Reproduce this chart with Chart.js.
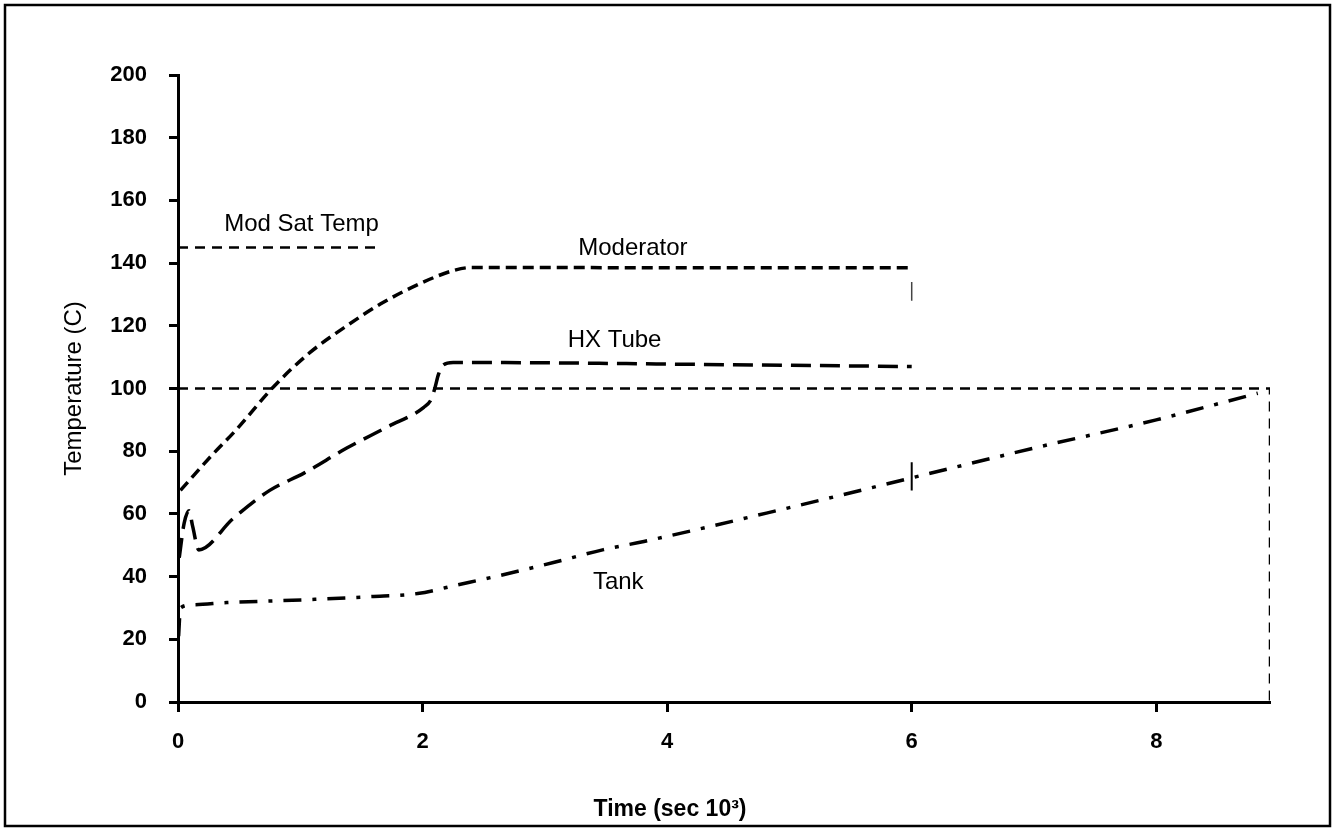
<!DOCTYPE html>
<html>
<head>
<meta charset="utf-8">
<script src="https://cdn.jsdelivr.net/npm/chart.js@4/dist/chart.umd.min.js"></script>
<style>
  html, body { margin: 0; padding: 0; background: #fff; }
  #wrap { width: 1332px; height: 830px; }
</style>
</head>
<body>
<div id="wrap"><canvas id="myChart" width="1332" height="830"></canvas></div>
<script>
// axis ticks
const xTicks = [0, 2, 4, 6, 8];
const yTicks = [0, 20, 40, 60, 80, 100, 120, 140, 160, 180, 200];

// Mod Sat Temp line
const modSatTime = [0, 1.66];
const modSatTemp = [145, 145];

// 100 C line and right edge
const boilTime = [0, 8.93, 8.93];
const boilTemp = [100, 100, 0];

// Moderator
const moderatorTime = [0.02, 0.26, 0.48, 0.78, 1.08, 1.38, 1.68, 2.01, 2.25, 2.4, 3, 4, 5, 6];
const moderatorTemp = [67.5, 78, 87, 100.5, 111.5, 120, 127.5, 134, 137.6, 138.6, 138.6, 138.5, 138.5, 138.5];

// HX Tube
const hxTime = [0.01, 0.05, 0.09, 0.12, 0.17, 0.45, 0.75, 1.03, 1.38, 1.71, 2.01, 2.07, 2.1, 2.13, 2.17, 2.25, 3, 4, 5, 6];
const hxTemp = [46, 57, 61, 56, 48.5, 58.5, 67.5, 73, 81, 87.7, 94, 96.5, 100, 104.5, 107.5, 108.3, 108.2, 107.8, 107.4, 107];

// Tank
const tankTime = [0.005, 0.02, 0.12, 0.4, 1.03, 1.57, 1.96, 2.29, 2.66, 3.07, 3.48, 3.81, 5, 6, 7, 8, 8.83];
const tankTemp = [21, 30, 31, 31.7, 32.6, 33.6, 34.6, 37.4, 40.6, 44.5, 48.6, 51.2, 62, 71.5, 81, 90, 98.5];

// small marks at t = 6
const modMarkTime = [6, 6];
const modMarkTemp = [134, 128];
const tankMarkTime = [6, 6];
const tankMarkTemp = [76.5, 67.5];

const pts = (xs, ys) => xs.map((x, i) => ({ x: x, y: ys[i] }));

const FONT = '"Liberation Sans", Arial, Helvetica, sans-serif';

// text labels inside the plot, placed in data units
const notes = [
  { text: 'Mod Sat Temp', t: 1.01, v: 152.5 },
  { text: 'Moderator', t: 3.72, v: 144.8 },
  { text: 'HX Tube', t: 3.57, v: 115.2 },
  { text: 'Tank', t: 3.6, v: 38 }
];

const framePlugin = {
  id: 'frame',
  beforeDraw(chart) {
    const c = chart.ctx;
    c.save();
    c.fillStyle = '#fff';
    c.fillRect(0, 0, chart.width, chart.height);
    c.strokeStyle = '#000';
    c.lineWidth = 2.5;
    c.strokeRect(5, 5, 1325, 821);
    c.restore();
  },
  afterDraw(chart) {
    const c = chart.ctx;
    const xs = chart.scales.x, ys = chart.scales.y;
    c.save();
    c.fillStyle = '#000';
    c.font = '24px ' + FONT;
    c.textAlign = 'center';
    c.textBaseline = 'middle';
    notes.forEach(n => {
      c.fillText(n.text, xs.getPixelForValue(n.t), ys.getPixelForValue(n.v));
    });
    // x axis title, sits a bit left of the plot centre in the original
    c.font = 'bold 23px ' + FONT;
    c.fillText('Time (sec 10³)', 670, 810);
    c.restore();
  }
};

const base = {
  pointRadius: 0,
  borderColor: '#000',
  fill: false,
  borderCapStyle: 'butt'
};

document.addEventListener('DOMContentLoaded', () => {
  const ctx = document.getElementById('myChart').getContext('2d');

  new Chart(ctx, {
    type: 'line',
    data: {
      datasets: [
        { ...base, label: 'Mod Sat Temp', data: pts(modSatTime, modSatTemp), borderWidth: 2.5, borderDash: [10, 7] },
        { ...base, label: '100 C', data: pts(boilTime, boilTemp), borderWidth: 2.5, borderDash: [10, 7] },
        { ...base, label: 'Moderator', data: pts(moderatorTime, moderatorTemp), borderWidth: 3.5, borderDash: [11, 6], cubicInterpolationMode: 'monotone' },
        { ...base, label: 'HX Tube', data: pts(hxTime, hxTemp), borderWidth: 3.5, borderDash: [20, 9], cubicInterpolationMode: 'monotone' },
        { ...base, label: 'Tank', data: pts(tankTime, tankTemp), borderWidth: 3.5, borderDash: [18, 11, 4, 11], cubicInterpolationMode: 'monotone' },
        { ...base, label: 'mod mark', data: pts(modMarkTime, modMarkTemp), borderWidth: 1.5, borderColor: '#444' },
        { ...base, label: 'tank mark', data: pts(tankMarkTime, tankMarkTemp), borderWidth: 2 }
      ]
    },
    options: {
      responsive: false,
      animation: false,
      layout: { padding: { left: 60, top: 75, right: 62, bottom: 8 } },
      plugins: {
        legend: { display: false },
        tooltip: { enabled: false }
      },
      scales: {
        x: {
          type: 'linear',
          min: 0,
          max: 8.93,
          border: { display: true, color: '#000', width: 3 },
          grid: { drawOnChartArea: false, drawTicks: true, tickLength: 10, tickWidth: 3, tickColor: '#000' },
          afterBuildTicks: s => { s.ticks = xTicks.map(v => ({ value: v })); },
          ticks: { includeBounds: false, maxRotation: 0, color: '#000', padding: 17, font: { family: FONT, size: 22, weight: 'bold' } },
          afterFit: s => { s.height = 120; }
        },
        y: {
          min: 0,
          max: 200,
          border: { display: true, color: '#000', width: 3 },
          grid: { drawOnChartArea: false, drawTicks: true, tickLength: 9, tickWidth: 3, tickColor: '#000' },
          afterBuildTicks: s => { s.ticks = yTicks.map(v => ({ value: v })); },
          ticks: { color: '#000', padding: 22, font: { family: FONT, size: 22, weight: 'bold' } },
          title: { display: true, text: 'Temperature (C)', color: '#000', padding: 0, font: { family: FONT, size: 24 } },
          afterFit: s => { s.width = 118; }
        }
      }
    },
    plugins: [framePlugin]
  });
});
</script>
</body>
</html>
